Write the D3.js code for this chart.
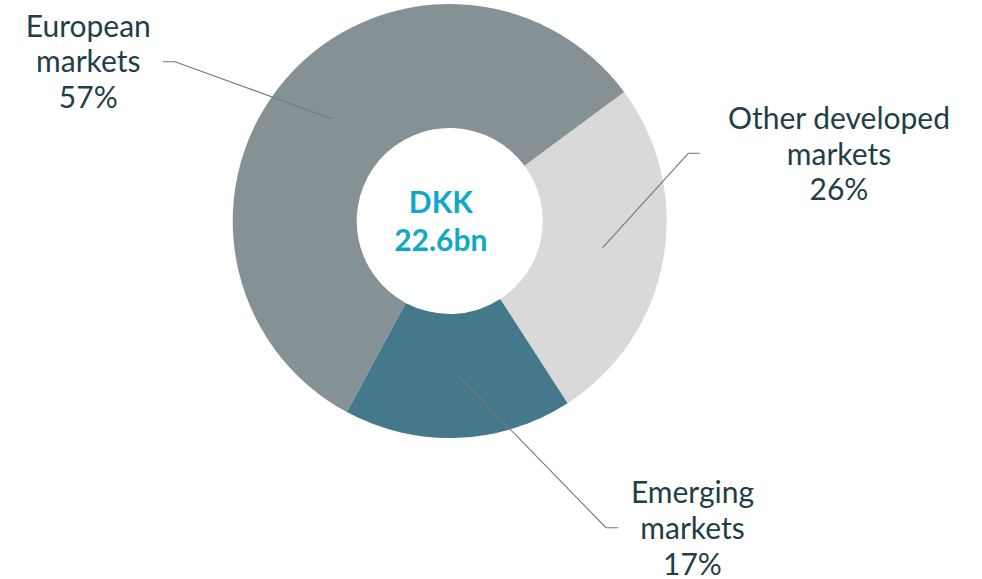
<!DOCTYPE html>
<html><head><meta charset="utf-8">
<script src="https://cdn.jsdelivr.net/npm/d3@7"></script>
<style>
html,body{margin:0;padding:0;background:#fff;}
svg{display:block;}
text{font-family:Lato,"Open Sans",sans-serif;}
</style></head>
<body>
<svg id="chart" width="982" height="579"></svg>
<script>
const categories = ["Other developed markets", "Emerging markets", "European markets"];
const values = [26, 17, 57];
const labelLines = [["Other developed", "markets", "26%"], ["Emerging", "markets", "17%"], ["European", "markets", "57%"]];
const colors = ["#d9d9d9", "#43798a", "#869195"];
const centerLines = ["DKK", "22.6bn"];

const svg = d3.select("#chart");
const cx = 449.7, cy = 221, outerR = 217, innerR = 93;
const g = svg.append("g").attr("transform", `translate(${cx},${cy})`);

const startA = 53.5 * Math.PI / 180;
const pie = d3.pie().sort(null).value(d => d).startAngle(startA).endAngle(startA + 2 * Math.PI);
const arcs = pie(values);
const arc = d3.arc().innerRadius(innerR).outerRadius(outerR);

g.selectAll("path.slice").data(arcs).join("path")
  .attr("class", "slice")
  .attr("d", arc)
  .attr("fill", (d, i) => colors[i]);

const leaders = [
  [[602.7, 247.7], [688.3, 153.3], [700, 153.3]],
  [[458.3, 376], [606, 527.7], [618.3, 527.7]],
  [[332.7, 119], [175, 61.7], [163, 61.7]]
];
svg.selectAll("polyline.leader").data(leaders).join("polyline")
  .attr("class", "leader")
  .attr("points", d => d.map(p => p.join(",")).join(" "))
  .attr("fill", "none")
  .attr("stroke", "#777777")
  .attr("stroke-width", 1.1);

const labelPos = [
  {x: 839, y: 129},
  {x: 692.5, y: 503.3},
  {x: 88.3, y: 36.7}
];
const lineH = 35.7;
labelLines.forEach((lines, i) => {
  const t = svg.append("text")
    .attr("text-anchor", "middle")
    .attr("fill", "#1f3f47")
    .attr("font-size", 30);
  lines.forEach((s, j) => {
    t.append("tspan").attr("x", labelPos[i].x).attr("y", labelPos[i].y + j * lineH).text(s);
  });
});

const ct = svg.append("text")
  .attr("text-anchor", "middle")
  .attr("fill", "#0fa8c6")
  .attr("font-size", 30)
  .attr("font-weight", "bold");
centerLines.forEach((s, j) => {
  ct.append("tspan").attr("x", 440.8).attr("y", 213.3 + j * 37.4).text(s);
});
</script>
</body></html>
